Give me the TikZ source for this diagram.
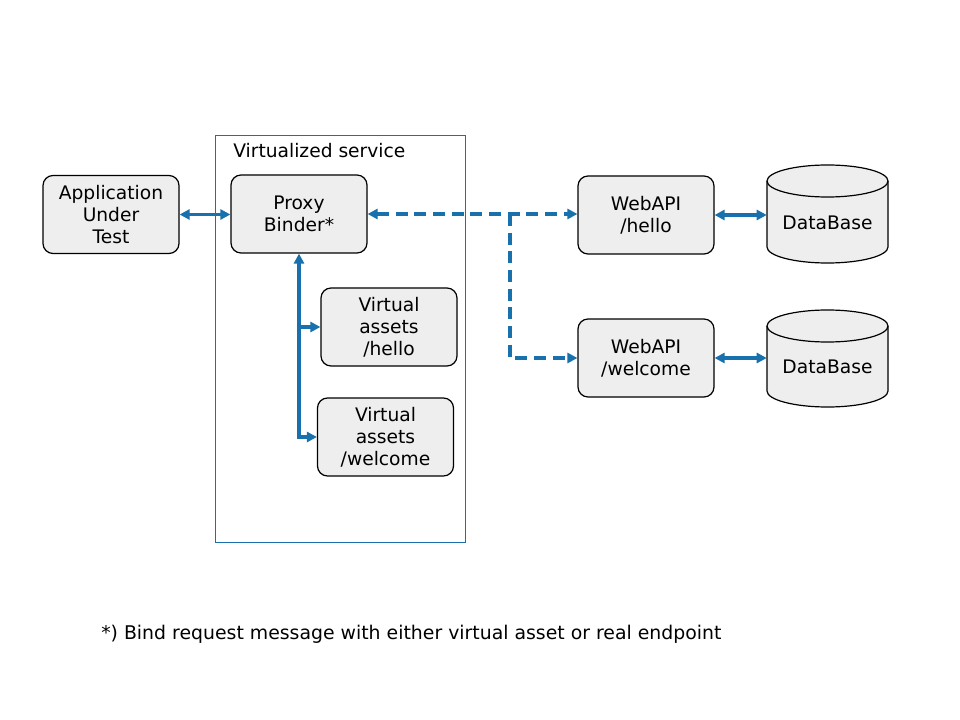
\documentclass[tikz,border=0pt]{standalone}
\usepackage{fontspec}
\setmainfont{DejaVu Sans}
\usetikzlibrary{arrows.meta}
\definecolor{lnblue}{RGB}{24,112,172}
\definecolor{boxfill}{RGB}{238,238,238}
\begin{document}
\begin{tikzpicture}[x=0.75pt,y=-0.75pt,
  every node/.style={font=\fontsize{14pt}{16.5pt}\selectfont},
  rbox/.style={draw=black,line width=0.9pt,fill=boxfill,rounded corners=7.5pt,
    minimum width=102pt,minimum height=58.5pt,align=center,inner sep=0pt},
  conn/.style={draw=lnblue,line width=2.5pt,{Triangle[length=7.5pt,width=7.5pt]}-{Triangle[length=7.5pt,width=7.5pt]}},
  conn1/.style={draw=lnblue,line width=2.5pt,-{Triangle[length=7.5pt,width=7.5pt]}},
  dashconn/.style={conn,dash pattern=on 9pt off 5pt},
  dashconn1/.style={conn1,dash pattern=on 9pt off 5pt},
  dbfill/.style={draw=black,line width=0.9pt,fill=boxfill}
]
\useasboundingbox (0,0) rectangle (960,720);
\fill[white] (0,0) rectangle (960,720);

% container
\node[draw=lnblue,line width=0.6pt,minimum width=187.5pt,minimum height=305.25pt,inner sep=0pt] (vs) at (340,338.5) {};
\node[anchor=west,inner sep=0pt] (vslabel) at (233,151) {Virtualized service};

% boxes
\node[rbox] (app) at (111,214.5) {Application\\Under\\Test};
\node[rbox] (proxy) at (299,214) {Proxy\\Binder*};
\node[rbox] (va1) at (389,327) {Virtual\\assets\\/hello};
\node[rbox] (va2) at (385.5,437) {Virtual\\assets\\/welcome};
\node[rbox] (w1) at (646,215) {WebAPI\\/hello};
\node[rbox] (w2) at (646,358) {WebAPI\\/welcome};

% databases
\path[dbfill] (767,181) -- (767,247) arc[start angle=180,end angle=360,x radius=45.375pt,y radius=12pt]
  -- (888,181) arc[start angle=0,end angle=180,x radius=45.375pt,y radius=12pt] -- cycle;
\draw[line width=0.9pt] (767,181) arc[start angle=180,end angle=360,x radius=45.375pt,y radius=12pt];
\node[inner sep=0pt,minimum width=90.75pt,minimum height=73.5pt] (db1) at (827.5,214) {};
\node[inner sep=0pt] (db1t) at (827.5,223) {DataBase};

\path[dbfill] (767,326) -- (767,391) arc[start angle=180,end angle=360,x radius=45.375pt,y radius=12pt]
  -- (888,326) arc[start angle=0,end angle=180,x radius=45.375pt,y radius=12pt] -- cycle;
\draw[line width=0.9pt] (767,326) arc[start angle=180,end angle=360,x radius=45.375pt,y radius=12pt];
\node[inner sep=0pt,minimum width=90.75pt,minimum height=72.75pt] (db2) at (827.5,358.5) {};
\node[inner sep=0pt] (db2t) at (827.5,367) {DataBase};

% connectors
\draw[conn] (app.east) -- (proxy.west |- app.east);
\draw[dashconn] (proxy.east) -- (proxy.east -| w1.west);
\coordinate (br) at (510,214);
\draw[dashconn1] (br) |- (w2.west);
\draw[conn] (w1.east) -- (db1.west |- w1.east);
\draw[conn] (w2.east) -- (db2.west |- w2.east);
\draw[conn] (va2.west) -| (proxy.south);
\draw[conn1] (va1.west -| proxy.south) -- (va1.west);

% footnote
\node[anchor=west,inner sep=0pt,font=\fontsize{14.15pt}{17pt}\selectfont] (note) at (101,634) {*) Bind request message with either virtual asset or real endpoint};
\end{tikzpicture}
\end{document}
